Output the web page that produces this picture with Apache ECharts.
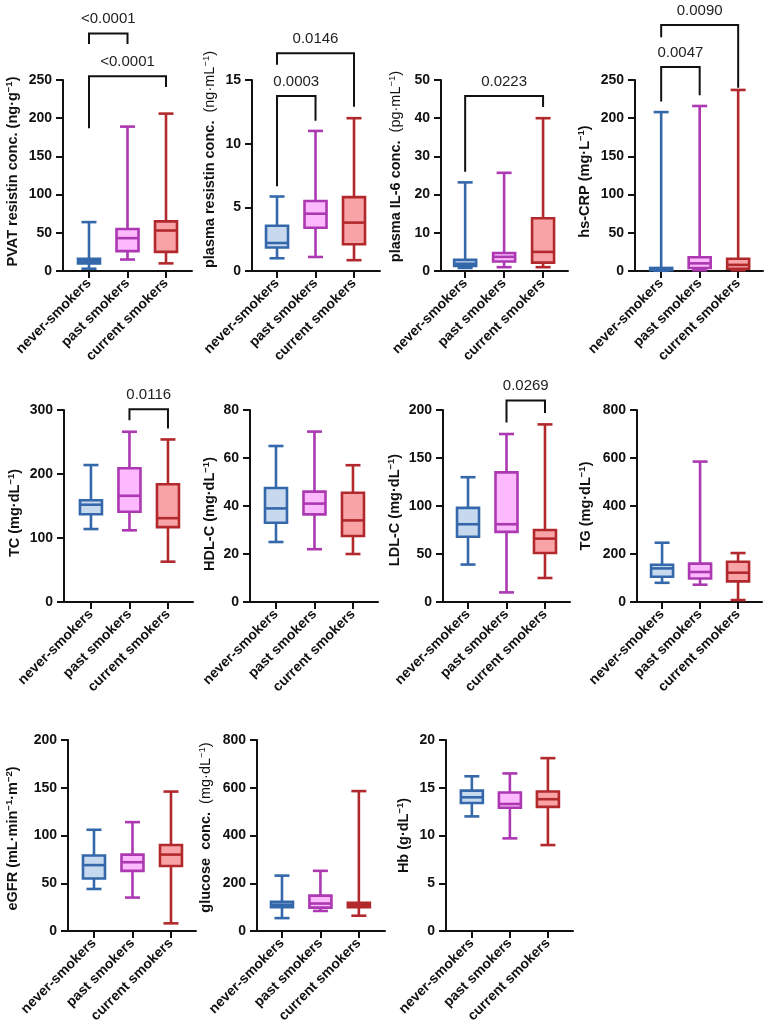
<!DOCTYPE html>
<html><head><meta charset="utf-8">
<script src="https://cdn.jsdelivr.net/npm/echarts@6/dist/echarts.min.js"></script>
<style>html,body{margin:0;padding:0;background:#fff}#c{width:767px;height:1036px}</style>
</head><body><div id="c"></div>
<script>
const categories = ['never-smokers', 'past smokers', 'current smokers'];

// Each series: [min, Q1, median, Q3, max] for never / past / current smokers
const pvatResistin   = [[3, 10, 13, 16, 64], [15, 26, 43, 55, 189], [10, 25, 53, 65, 206]];
const plasmaResistin = [[1.0, 1.85, 2.2, 3.55, 5.85], [1.1, 3.4, 4.5, 5.5, 11.0], [0.85, 2.1, 3.8, 5.8, 12.0]];
const plasmaIL6      = [[0.8, 1.3, 1.9, 2.9, 23.2], [1.0, 2.5, 3.7, 4.7, 25.7], [1.0, 2.2, 5.0, 13.8, 40]];
const hsCRP          = [[0.3, 1.0, 2.0, 4.0, 208], [1, 4, 10, 18, 216], [1, 3, 8, 16, 237]];
const totalChol      = [[114, 137, 152, 159, 214], [112, 141, 166, 209, 266], [63, 117, 131, 184, 254]];
const hdlC           = [[25, 33, 39, 47.5, 65], [22, 36.5, 41, 46, 71], [20, 27.5, 34, 45.5, 57]];
const ldlC           = [[39, 68, 81, 98, 130], [10, 73, 81, 135, 175], [25, 51, 66, 75, 185]];
const triglycerides  = [[80, 105, 140, 155, 247], [72, 98, 125, 160, 585], [8, 86, 122, 168, 204]];
const eGFR           = [[44, 55, 69, 79, 106], [35, 63, 72, 80, 114], [8, 68, 80, 90, 146]];
const glucose        = [[54, 100, 110, 122, 232], [84, 98, 115, 148, 252], [64, 100, 108, 118, 586]];
const hemoglobin     = [[12.0, 13.4, 14.0, 14.7, 16.2], [9.7, 12.9, 13.3, 14.5, 16.5], [9.0, 13.0, 13.8, 14.6, 18.1]];

// Significance brackets: [fromGroup, toGroup, topValue, leftLegValue, rightLegValue, p-label]
const pvatBrackets     = [[1, 2, 311, 297, 297, '<0.0001'], [1, 3, 255, 187, 241, '<0.0001']];
const resistinBrackets = [[1, 2, 13.75, 6.65, 11.8, '0.0003'], [1, 3, 17.1, 16.2, 12.9, '0.0146']];
const il6Brackets      = [[1, 3, 45.8, 26, 42.9, '0.0223']];
const crpBrackets      = [[1, 2, 267, 222, 230, '0.0047'], [1, 3, 322, 306, 240, '0.0090']];
const tcBrackets       = [[2, 3, 301, 284, 271, '0.0116']];
const ldlBrackets      = [[2, 3, 210, 187, 197, '0.0269']];

// Y-axis scales: [max, interval]
const yScales = [[250, 50], [15, 5], [50, 10], [250, 50], [300, 100], [80, 20], [200, 50], [800, 200], [200, 50], [800, 200], [20, 5]];

const axisNames = [
  'PVAT resistin conc. (ng·g{s|−1})',
  'plasma resistin conc.  {n|(ng·mL}{sn|−1}{n|)}',
  'plasma IL-6 conc.  {n|(pg·mL}{sn|−1}{n|)}',
  'hs-CRP (mg·L{s|−1})',
  'TC (mg·dL{s|−1})',
  'HDL-C (mg·dL{s|−1})',
  'LDL-C (mg·dL{s|−1})',
  'TG (mg·dL{s|−1})',
  'eGFR (mL·min{s|−1}·m{s|−2})',
  'glucose  conc.  {n|(mg·dL}{sn|−1}{n|)}',
  'Hb (g·dL{s|−1})'
];

const panelData = [pvatResistin, plasmaResistin, plasmaIL6, hsCRP, totalChol, hdlC, ldlC, triglycerides, eGFR, glucose, hemoglobin];
const panelBrackets = [pvatBrackets, resistinBrackets, il6Brackets, crpBrackets, tcBrackets, [], ldlBrackets, [], [], [], []];

// layout: [left, top, width, height, xMin, xMax, nameGap, nameShiftUp]
const layout = [
  [63, 80, 129, 191, 0.325, 3.675, 41, 4],
  [252, 80, 128, 191, 0.35, 3.675, 33, 16],
  [441, 80, 127, 191, 0.38, 3.64, 36, 9],
  [635, 80, 128, 191, 0.32, 3.645, 41, -6],
  [64, 410, 129, 192, 0.30, 3.65, 40, -7],
  [250, 410, 128, 192, 0.325, 3.65, 31, -8],
  [443, 410, 127, 192, 0.35, 3.65, 39, -4],
  [637, 410, 125, 192, 0.34, 3.63, 42, 0],
  [68, 740, 128, 191, 0.325, 3.65, 46, -3],
  [257, 740, 128, 191, 0.35, 3.68, 42, 8],
  [446, 740, 127, 191, 0.32, 3.66, 33, 0]
];

const strokeColors = ['#3468aa', '#ac38b2', '#b2292d'];
const fillColors = ['#c7d9ef', '#fdb9fd', '#f8a3a6'];
const FONT = '"Liberation Sans", Arial, Helvetica, sans-serif';
const INK = '#111';
const NAME_SIZE = 14.5;

function renderBox(params, api) {
  const x = api.value(0);
  const p = [1, 2, 3, 4, 5].map(i => api.coord([x, api.value(i)]));
  const cx = p[0][0];
  const yMin = p[0][1], yQ1 = p[1][1], yMed = p[2][1], yQ3 = p[3][1], yMax = p[4][1];
  const stroke = strokeColors[params.dataIndex];
  const fill = fillColors[params.dataIndex];
  const bw = 11, cw = 7.5, lw = 2.6;
  const ls = { stroke: stroke, lineWidth: lw };
  return {
    type: 'group',
    children: [
      { type: 'line', shape: { x1: cx, y1: yMax, x2: cx, y2: yQ3 }, style: ls },
      { type: 'line', shape: { x1: cx, y1: yQ1, x2: cx, y2: yMin }, style: ls },
      { type: 'line', shape: { x1: cx - cw, y1: yMax, x2: cx + cw, y2: yMax }, style: ls },
      { type: 'line', shape: { x1: cx - cw, y1: yMin, x2: cx + cw, y2: yMin }, style: ls },
      { type: 'rect', shape: { x: cx - bw, y: yQ3, width: 2 * bw, height: yQ1 - yQ3 }, style: { fill: fill, stroke: stroke, lineWidth: lw } },
      { type: 'line', shape: { x1: cx - bw, y1: yMed, x2: cx + bw, y2: yMed }, style: ls }
    ]
  };
}

function makeBracketRenderer(list) {
  return function (params, api) {
    const x1 = api.value(0), x2 = api.value(1), yt = api.value(2), yl = api.value(3), yr = api.value(4);
    const a = api.coord([x1, yl]), b = api.coord([x1, yt]), c = api.coord([x2, yt]), d = api.coord([x2, yr]);
    return {
      type: 'group',
      children: [
        { type: 'polyline', shape: { points: [a, b, c, d] }, style: { stroke: INK, lineWidth: 2, fill: null } },
        { type: 'text', style: { text: list[params.dataIndex][5], x: (b[0] + c[0]) / 2, y: b[1] - 7, align: 'center', verticalAlign: 'bottom', fill: '#222', fontSize: 15, fontFamily: FONT } }
      ]
    };
  };
}

const grid = [], xAxis = [], yAxis = [], series = [];
panelData.forEach((data, i) => {
  const L = layout[i];
  const shift = L[7];
  grid.push({ left: L[0], top: L[1], width: L[2], height: L[3], containLabel: false });
  xAxis.push({
    type: 'value', gridIndex: i, min: L[4], max: L[5],
    splitLine: { show: false },
    axisLine: { show: true, onZero: false, lineStyle: { color: INK, width: 2 } },
    axisTick: { show: true, length: 7, lineStyle: { color: INK, width: 2 }, customValues: [1, 2, 3] },
    axisLabel: {
      customValues: [1, 2, 3], rotate: 45, margin: 10, fontSize: 14, fontWeight: 'bold', color: INK, fontFamily: FONT,
      formatter: v => categories[Math.round(v) - 1] || ''
    }
  });
  yAxis.push({
    type: 'value', gridIndex: i, min: 0, max: yScales[i][0], interval: yScales[i][1],
    name: axisNames[i], nameLocation: 'middle', nameGap: L[6],
    nameTextStyle: {
      fontSize: NAME_SIZE, fontWeight: 'bold', color: INK, fontFamily: FONT, lineHeight: 18,
      padding: shift >= 0 ? [0, 0, 0, 2 * shift] : [0, -2 * shift, 0, 0],
      rich: {
        n: { fontSize: NAME_SIZE, fontWeight: 'normal', color: INK, fontFamily: FONT, lineHeight: 18 },
        s: { fontSize: 9.5, fontWeight: 'bold', color: INK, fontFamily: FONT, verticalAlign: 'top', lineHeight: 18 },
        sn: { fontSize: 9.5, fontWeight: 'normal', color: INK, fontFamily: FONT, verticalAlign: 'top', lineHeight: 18 }
      }
    },
    splitLine: { show: false },
    axisLine: { show: true, onZero: false, lineStyle: { color: INK, width: 2 } },
    axisTick: { show: true, length: 7, lineStyle: { color: INK, width: 2 } },
    axisLabel: { margin: 11, fontSize: 14, fontWeight: 'bold', color: INK, fontFamily: FONT }
  });
  series.push({
    type: 'custom', xAxisIndex: i, yAxisIndex: i, clip: false, silent: true,
    encode: { x: 0, y: [1, 2, 3, 4, 5] },
    data: data.map((d, k) => [k + 1].concat(d)),
    renderItem: renderBox
  });
  const br = panelBrackets[i];
  if (br.length) {
    series.push({
      type: 'custom', xAxisIndex: i, yAxisIndex: i, clip: false, silent: true,
      encode: { x: [0, 1], y: [2, 3, 4] },
      data: br.map(b => b.slice(0, 5)),
      renderItem: makeBracketRenderer(br)
    });
  }
});

const chart = echarts.init(document.getElementById('c'), null, { renderer: 'canvas' });
chart.setOption({ animation: false, backgroundColor: '#fff', textStyle: { fontFamily: FONT }, grid, xAxis, yAxis, series });
</script>
</body></html>
